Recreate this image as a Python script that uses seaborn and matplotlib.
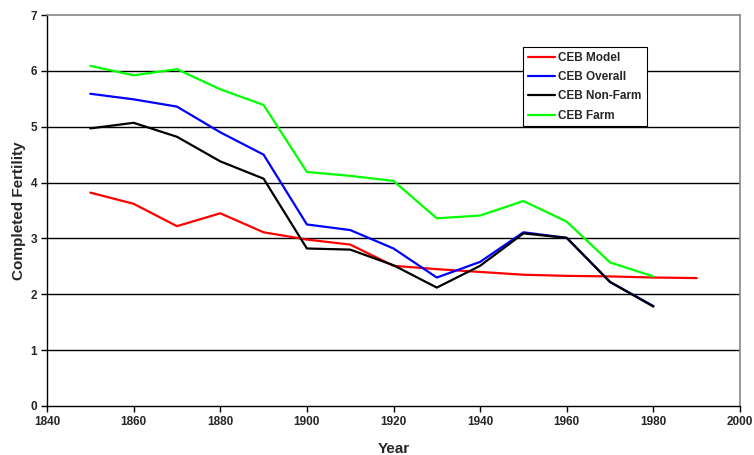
import matplotlib
matplotlib.use("Agg")
import matplotlib.pyplot as plt
import seaborn as sns
import pandas as pd

years_model = [1850, 1860, 1870, 1880, 1890, 1900, 1910, 1920, 1930, 1940, 1950, 1960, 1970, 1980, 1990]
ceb_model = [3.82, 3.62, 3.22, 3.45, 3.11, 2.98, 2.89, 2.51, 2.45, 2.40, 2.35, 2.33, 2.32, 2.30, 2.29]

years = [1850, 1860, 1870, 1880, 1890, 1900, 1910, 1920, 1930, 1940, 1950, 1960, 1970, 1980]
ceb_overall = [5.59, 5.49, 5.36, 4.90, 4.50, 3.25, 3.15, 2.82, 2.30, 2.58, 3.11, 3.01, 2.22, 1.79]
ceb_nonfarm = [4.97, 5.07, 4.82, 4.38, 4.07, 2.82, 2.80, 2.52, 2.12, 2.51, 3.09, 3.01, 2.22, 1.78]
ceb_farm = [6.09, 5.92, 6.03, 5.67, 5.39, 4.19, 4.12, 4.03, 3.36, 3.41, 3.67, 3.30, 2.57, 2.32]

series_names = ["CEB Model", "CEB Overall", "CEB Non-Farm", "CEB Farm"]
colors = ["#ff0000", "#0000ff", "#000000", "#00ff00"]

frames = [
    pd.DataFrame({"Year": years_model, "Value": ceb_model, "Series": series_names[0]}),
    pd.DataFrame({"Year": years, "Value": ceb_overall, "Series": series_names[1]}),
    pd.DataFrame({"Year": years, "Value": ceb_nonfarm, "Series": series_names[2]}),
    pd.DataFrame({"Year": years, "Value": ceb_farm, "Series": series_names[3]}),
]
df = pd.concat(frames, ignore_index=True)

sns.set_style("white")
plt.rcParams["font.family"] = ["Liberation Sans", "DejaVu Sans"]
plt.rcParams["font.weight"] = "bold"

fig = plt.figure(figsize=(7.54, 4.55), dpi=100)
ax = fig.add_axes([47 / 754, 1 - 406 / 455, 693 / 754, 391 / 455])

for i in range(1, 7):
    ax.axhline(i, color="black", lw=1.0, zorder=0)

sns.lineplot(data=df, x="Year", y="Value", hue="Series", hue_order=series_names,
             palette=dict(zip(series_names, colors)), lw=1.6, ax=ax, sort=False,
             estimator=None)

ax.set_xlim(1840, 2000)
ax.set_ylim(0, 7)
ax.set_xticks(range(1840, 2001, 20))
ax.set_yticks(range(0, 8))
ax.tick_params(axis="both", direction="out", length=4, width=1, labelsize=8.5, color="black", pad=3)
for lab in ax.get_xticklabels() + ax.get_yticklabels():
    lab.set_fontweight("bold")
ax.xaxis.set_ticks_position("bottom")
ax.yaxis.set_ticks_position("left")
ax.set_xlabel("Year", fontsize=11, fontweight="bold", labelpad=10)
ax.set_ylabel("Completed Fertility", fontsize=11, fontweight="bold", labelpad=3)

for side in ["left", "bottom"]:
    ax.spines[side].set_color("black")
    ax.spines[side].set_linewidth(1.0)
for side in ["top", "right"]:
    ax.spines[side].set_color("#888888")
    ax.spines[side].set_linewidth(1.2)

leg = ax.legend(loc="upper left", bbox_to_anchor=((523 - 47) / 693, (406 - 47) / 391),
                borderaxespad=0, frameon=True, fancybox=False, edgecolor="black",
                framealpha=1, prop={"weight": "bold", "size": 8.5},
                handlelength=2.3, handletextpad=0.3, labelspacing=0.62,
                borderpad=0.4)
leg.get_frame().set_linewidth(0.8)

fig.savefig("out.png", dpi=100, facecolor="white")
